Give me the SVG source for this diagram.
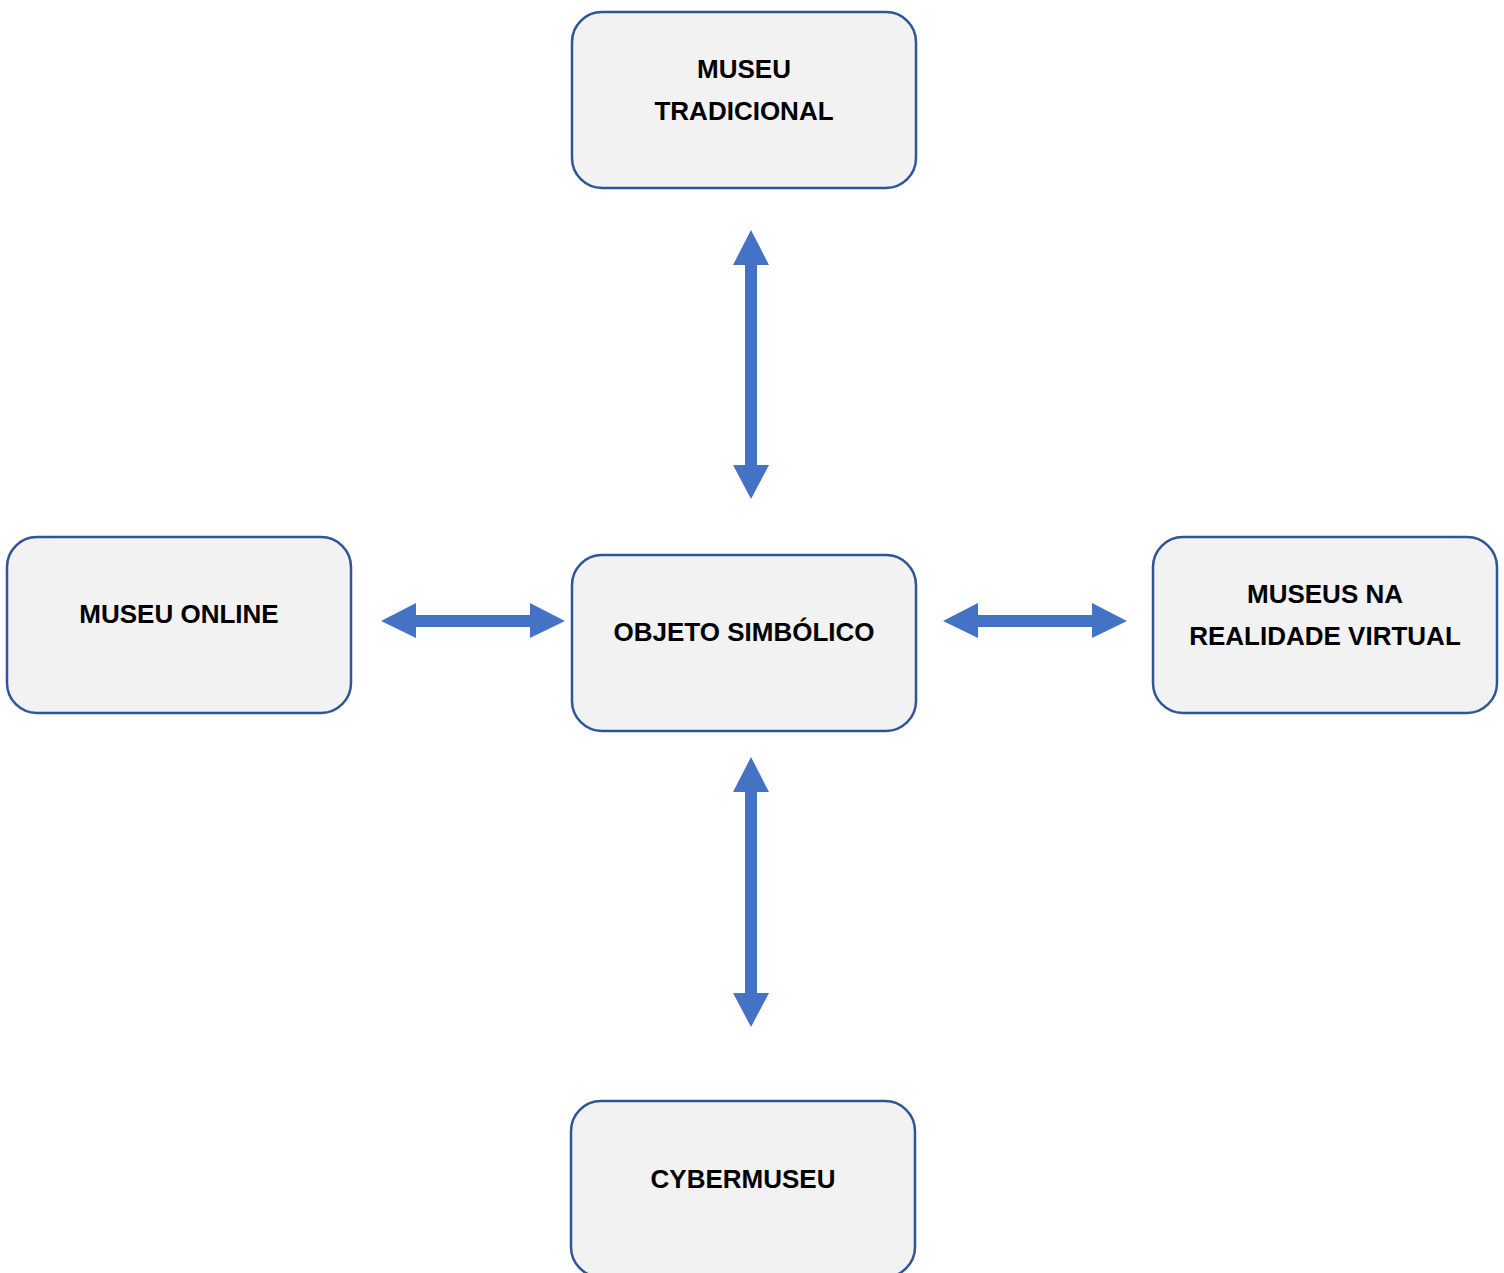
<svg xmlns="http://www.w3.org/2000/svg" width="1504" height="1273" viewBox="0 0 1504 1273">
<style>
.box{fill:#F2F2F2;stroke:#2F5597;stroke-width:2.5}
.lbl{font-family:"Liberation Sans",Arial,sans-serif;font-weight:bold;font-size:26px;fill:#000;text-anchor:middle}
.arr{fill:#4472C4}
</style>
<rect width="1504" height="1273" fill="#fff"/>
<g id="connectors">
<polygon class="arr" points="751,230 769,265 757,265 757,465 769,465 751,499 733,465 745,465 745,265 733,265"/>
<polygon class="arr" points="751,757 769,792 757,792 757,993 769,993 751,1027 733,993 745,993 745,792 733,792"/>
<polygon class="arr" points="381,621 416,603 416,615 530,615 530,603 565,621 530,638 530,627 416,627 416,638"/>
<polygon class="arr" points="943,621 978,603 978,615 1092,615 1092,603 1127,621 1092,638 1092,627 978,627 978,638"/>
</g>
<g id="museu-tradicional">
<rect class="box" x="572" y="12" width="344" height="176" rx="30"/>
<text class="lbl" x="744" y="78">MUSEU</text>
<text class="lbl" x="744" y="120">TRADICIONAL</text>
</g>
<g id="objeto-simbolico">
<rect class="box" x="572" y="555" width="344" height="176" rx="30"/>
<text class="lbl" x="744" y="641">OBJETO SIMBÓLICO</text>
</g>
<g id="museu-online">
<rect class="box" x="7" y="537" width="344" height="176" rx="30"/>
<text class="lbl" x="179" y="623">MUSEU ONLINE</text>
</g>
<g id="museus-rv">
<rect class="box" x="1153" y="537" width="344" height="176" rx="30"/>
<text class="lbl" x="1325" y="603">MUSEUS NA</text>
<text class="lbl" x="1325" y="645">REALIDADE VIRTUAL</text>
</g>
<g id="cybermuseu">
<rect class="box" x="571" y="1101" width="344" height="176" rx="30"/>
<text class="lbl" x="743" y="1188">CYBERMUSEU</text>
</g>
</svg>
